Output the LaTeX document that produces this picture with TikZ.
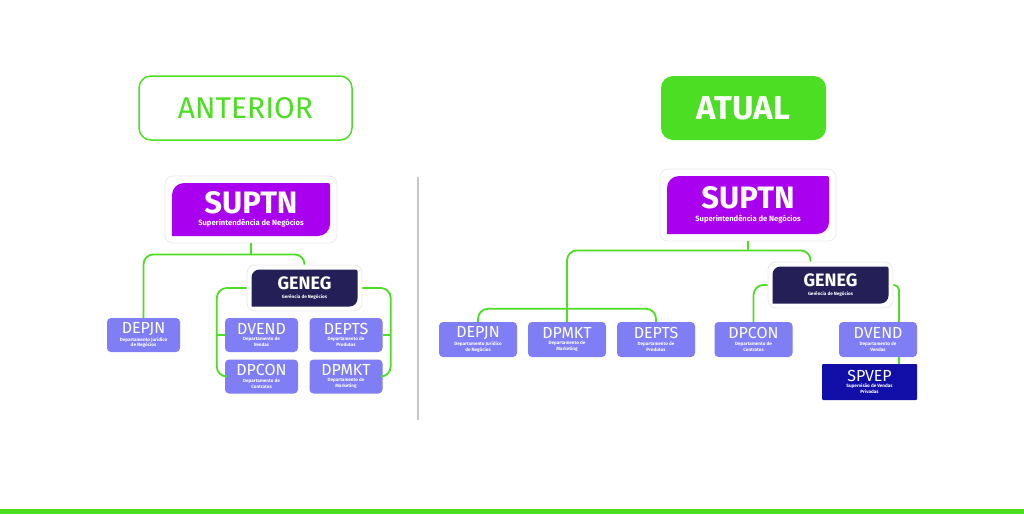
\documentclass[tikz,border=0pt]{standalone}
\usepackage{fontspec}
\setmainfont{Fira Sans}
\usepackage{tikz}

\definecolor{verde}{RGB}{76,222,34}
\definecolor{roxo}{RGB}{170,0,240}
\definecolor{marinho}{RGB}{36,31,86}
\definecolor{lilas}{RGB}{128,126,245}
\definecolor{azul}{RGB}{18,14,168}
\definecolor{cinza}{RGB}{200,200,200}

\newcommand{\subtxt}{\bfseries\fontsize{4.6}{5}\selectfont}

\tikzset{
	conn/.style={draw=verde, line width=1.8pt, rounded corners=10pt},
	frame/.style={fill=white, draw=black!8, line width=0.8pt, rounded corners=8pt, inner sep=0pt, text=white, align=center},
	leaf/.style n args={3}{path picture={
		\fill[#1] ([shift={(#2,#2)}]path picture bounding box.south west) [rounded corners=#3]
			-- ([shift={(#2,-#2)}]path picture bounding box.north west) [rounded corners=2pt]
			-- ([shift={(-#2,-#2)}]path picture bounding box.north east) [rounded corners=#3]
			-- ([shift={(-#2,#2)}]path picture bounding box.south east) [sharp corners] -- cycle;}},
	dep/.style={fill=lilas, rounded corners=4pt, inner sep=0pt, align=center, text=white, font=\fontsize{16}{5.7}\selectfont},
}

\begin{document}
\begin{tikzpicture}[x=1pt, y=-1pt]
	\useasboundingbox (0,0) rectangle (1024,514);
	\fill[verde] (0,509) rectangle (1024,514);
	\draw[cinza, line width=1.5pt] (418,177) -- (418,420);

	\node[draw=verde, line width=1.5pt, rounded corners=12pt, minimum width=213pt, minimum height=64pt, text=verde, font=\fontsize{30}{30}\selectfont] (antes) at (245.5,108) {ANTERIOR};
	\node[fill=verde, rounded corners=12pt, minimum width=165pt, minimum height=64pt, text=white, font=\bfseries\fontsize{33}{33}\selectfont] (atual) at (743.5,108) {ATUAL};

	\node[frame, leaf={roxo}{7pt}{12pt}, minimum width=172pt, minimum height=67pt, font=\bfseries\fontsize{31}{12.5}\selectfont] (supA) at (251,209.5) {SUPTN\\{\fontsize{7.6}{8}\selectfont Superintendência de Negócios}};
	\node[frame, leaf={marinho}{4.5pt}{8pt}, minimum width=115pt, minimum height=46pt, font=\bfseries\fontsize{18}{8.5}\selectfont] (genA) at (304.5,288) {GENEG\\{\subtxt Gerência de Negócios}};

	\node[dep, minimum width=73pt, minimum height=34pt] (depjnA) at (143.5,335) {DEPJN\\[0.8pt]{\subtxt Departamento Jurídico}\\{\subtxt de Negócios}};
	\node[dep, minimum width=73pt, minimum height=34pt] (dvendA) at (261.5,335) {DVEND\\[0.8pt]{\subtxt Departamento de}\\{\subtxt Vendas}};
	\node[dep, minimum width=73pt, minimum height=34pt] (deptsA) at (346,335) {DEPTS\\[0.8pt]{\subtxt Departamento de}\\{\subtxt Produtos}};
	\node[dep, minimum width=73pt, minimum height=34pt] (dpconA) at (261.5,376.5) {DPCON\\[0.8pt]{\subtxt Departamento de}\\{\subtxt Contratos}};
	\node[dep, minimum width=73pt, minimum height=34pt] (dpmktA) at (346,376.5) {DPMKT\\[0.8pt]{\subtxt Departamento de}\\{\subtxt Marketing}};

	\coordinate (jA) at ([yshift=-11pt]supA.south);
	\draw[conn] (supA.south) -- (jA);
	\draw[conn] (depjnA.north) |- (jA) -| (genA.north);
	\draw[conn] (genA.west) -| ([xshift=-8pt]dvendA.west) |- (dpconA.west);
	\draw[conn] ([xshift=-8pt]dvendA.west) -- (dvendA.west);
	\draw[conn] (genA.east) -| ([xshift=8pt]deptsA.east) |- (dpmktA.east);
	\draw[conn] ([xshift=8pt]deptsA.east) -- (deptsA.east);

	\node[frame, leaf={roxo}{7pt}{12pt}, minimum width=176pt, minimum height=72pt, font=\bfseries\fontsize{31}{12.5}\selectfont] (supB) at (748,205) {SUPTN\\{\fontsize{7.6}{8}\selectfont Superintendência de Negócios}};
	\node[frame, leaf={marinho}{4.5pt}{8pt}, minimum width=125pt, minimum height=46pt, font=\bfseries\fontsize{18}{8.5}\selectfont] (genB) at (830.5,285) {GENEG\\{\subtxt Gerência de Negócios}};

	\node[dep, minimum width=78pt, minimum height=35pt] (depjnB) at (478,339.5) {DEPJN\\[0.8pt]{\subtxt Departamento Jurídico}\\{\subtxt de Negócios}};
	\node[dep, minimum width=78pt, minimum height=35pt] (dpmktB) at (567,339.5) {DPMKT\\[0.8pt]{\subtxt Departamento de}\\{\subtxt Marketing}};
	\node[dep, minimum width=78pt, minimum height=35pt] (deptsB) at (656,339.5) {DEPTS\\[0.8pt]{\subtxt Departamento de}\\{\subtxt Produtos}};
	\node[dep, minimum width=78pt, minimum height=35pt] (dpconB) at (753.5,339.5) {DPCON\\[0.8pt]{\subtxt Departamento de}\\{\subtxt Contratos}};
	\node[dep, minimum width=78pt, minimum height=35pt] (dvendB) at (878,339.5) {DVEND\\[0.8pt]{\subtxt Departamento de}\\{\subtxt Vendas}};
	\node[dep, fill=azul, rounded corners=1pt, minimum width=95pt, minimum height=36pt] (spvep) at (869.5,382) {SPVEP\\[0.8pt]{\subtxt Supervisão de Vendas}\\{\subtxt Privadas}};

	\coordinate (jB) at ([yshift=-9pt]supB.south);
	\draw[conn] (supB.south) -- (jB);
	\draw[conn] (dpmktB.north) |- (jB) -| ([xshift=-20pt]genB.north);
	\draw[conn] (depjnB.north) |- ([yshift=13pt]dpmktB.north) -| (deptsB.north);
	\draw[conn] (genB.west) -| (dpconB.north);
	\draw[conn, rounded corners=5pt] (genB.east) -| ([xshift=21pt]dvendB.north);
	\draw[conn] ([xshift=21pt]dvendB.south) -- ([xshift=21pt]dvendB.south |- spvep.north);
\end{tikzpicture}
\end{document}
